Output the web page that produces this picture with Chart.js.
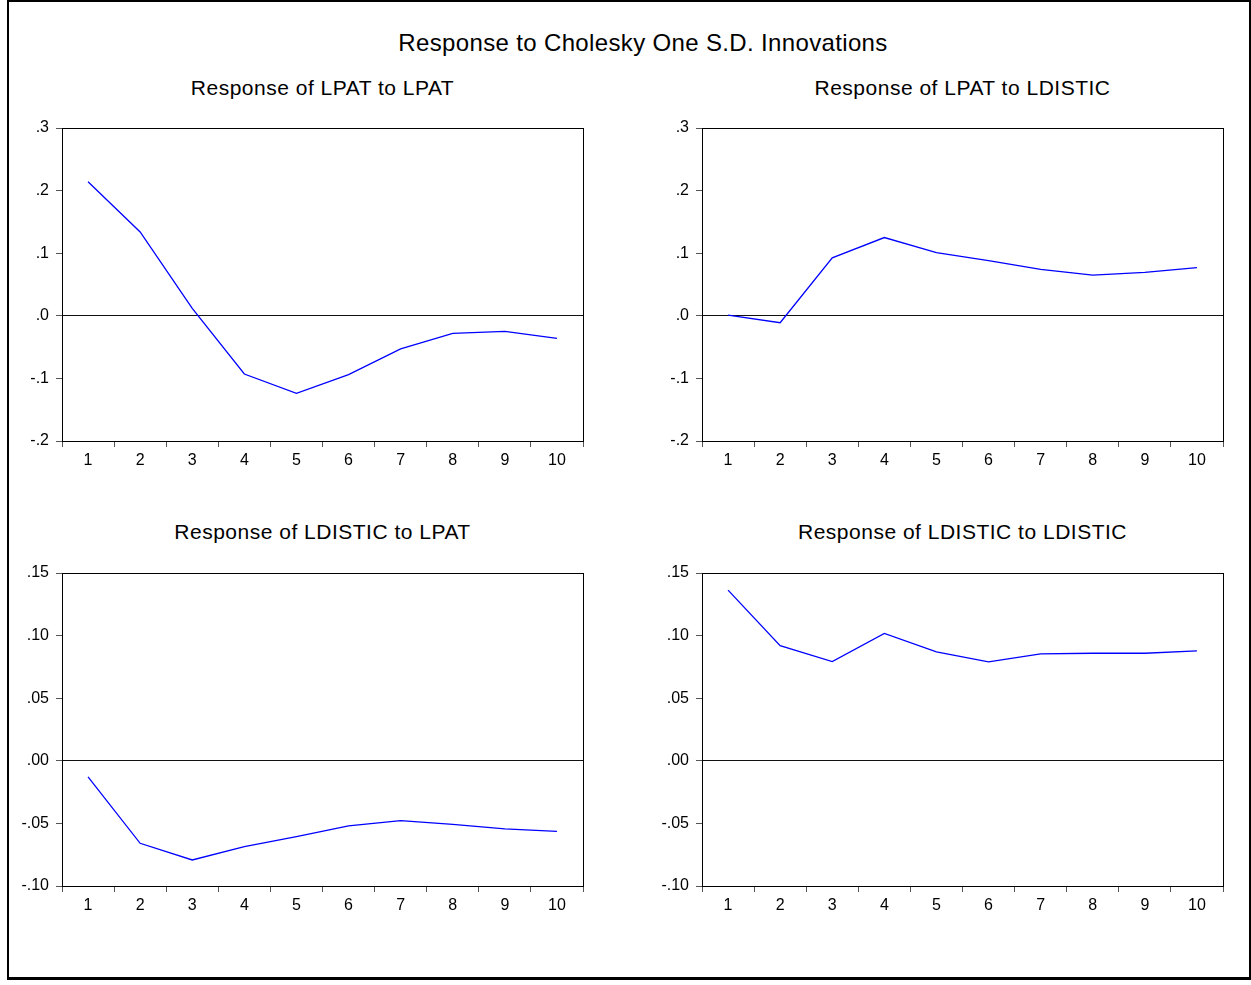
<!DOCTYPE html>
<html>
<head>
<meta charset="utf-8">
<script src="https://cdn.jsdelivr.net/npm/chart.js@4.4.1/dist/chart.umd.min.js"></script>
<style>
  html, body { margin: 0; padding: 0; background: #fff; }
  body { width: 1251px; height: 985px; position: relative; overflow: hidden; font-family: "Liberation Sans", Arial, sans-serif; }
  .frame { position: absolute; left: 7px; top: 0px; width: 1240px; height: 975px; border-left: 2px solid #000; border-top: 2px solid #000; border-right: 2px solid #000; border-bottom: 3px solid #000; }
  .ttl { position: absolute; color: #000; white-space: nowrap; text-align: center; line-height: 1; }
  .sub { font-size: 21px; letter-spacing: 0.5px; }
  .panel { position: absolute; }
</style>
</head>
<body>
<div class="frame"></div>
<div class="ttl" id="mainTitle" style="left:0;width:1286px;top:31px;font-size:24px;letter-spacing:0.35px;">Response to Cholesky One S.D. Innovations</div>
<div class="ttl sub" id="t0" style="left:62px;width:521px;top:77px;"></div>
<div class="ttl sub" id="t1" style="left:702px;width:521px;top:77px;"></div>
<div class="ttl sub" id="t2" style="left:62px;width:521px;top:521px;"></div>
<div class="ttl sub" id="t3" style="left:702px;width:521px;top:521px;"></div>
<div class="panel" id="p0"><canvas id="c0"></canvas></div>
<div class="panel" id="p1"><canvas id="c1"></canvas></div>
<div class="panel" id="p2"><canvas id="c2"></canvas></div>
<div class="panel" id="p3"><canvas id="c3"></canvas></div>
<script>
// ---- data ----
const periods = ['1','2','3','4','5','6','7','8','9','10'];
const panelTitles = ['Response of LPAT to LPAT', 'Response of LPAT to LDISTIC', 'Response of LDISTIC to LPAT', 'Response of LDISTIC to LDISTIC'];
const lpatToLpat       = [0.214, 0.134, 0.012, -0.093, -0.124, -0.094, -0.053, -0.028, -0.025, -0.036];
const lpatToLdistic    = [0.001, -0.011, 0.0925, 0.125, 0.101, 0.088, 0.074, 0.065, 0.0695, 0.077];
const ldisticToLpat    = [-0.0128, -0.0659, -0.0792, -0.0686, -0.0606, -0.052, -0.0478, -0.0507, -0.0544, -0.0563];
const ldisticToLdistic = [0.1363, 0.092, 0.0792, 0.1017, 0.087, 0.079, 0.0854, 0.0859, 0.0859, 0.0878];
const yTicksTop      = [-0.2, -0.1, 0, 0.1, 0.2, 0.3];
const yTickLabelsTop = ['-.2', '-.1', '.0', '.1', '.2', '.3'];
const yTicksBottom      = [-0.10, -0.05, 0, 0.05, 0.10, 0.15];
const yTickLabelsBottom = ['-.10', '-.05', '.00', '.05', '.10', '.15'];

// ---- layout (plot area rectangles) ----
const areas = [
  {left: 62,  top: 127.5, right: 583,  bottom: 440.5},
  {left: 702, top: 127.5, right: 1223, bottom: 440.5},
  {left: 62,  top: 572.5, right: 583,  bottom: 885.5},
  {left: 702, top: 572.5, right: 1223, bottom: 885.5}
];
const series = [lpatToLpat, lpatToLdistic, ldisticToLpat, ldisticToLdistic];
const yTicksSets = [yTicksTop, yTicksTop, yTicksBottom, yTicksBottom];
const yLabelSets = [yTickLabelsTop, yTickLabelsTop, yTickLabelsBottom, yTickLabelsBottom];

const Y_W = 60, X_H = 40, PAD_T = 20, PAD_R = 10;
const FONT = "'Liberation Sans', Arial, sans-serif";

const boxPlugin = {
  id: 'box',
  afterDraw(chart) {
    const a = chart.chartArea, ctx = chart.ctx;
    ctx.save();
    ctx.strokeStyle = '#000';
    ctx.lineWidth = 1;
    ctx.strokeRect(Math.round(a.left) + 0.5, Math.round(a.top) + 0.5, Math.round(a.right - a.left), Math.round(a.bottom - a.top));
    ctx.restore();
  }
};

areas.forEach((ar, i) => {
  document.getElementById('t' + i).textContent = panelTitles[i];
  const p = document.getElementById('p' + i);
  const W = (ar.right - ar.left) + Y_W + PAD_R;
  const H = (ar.bottom - ar.top) + PAD_T + X_H;
  p.style.left = (ar.left - Y_W) + 'px';
  p.style.top = (ar.top - PAD_T) + 'px';
  p.style.width = W + 'px';
  p.style.height = H + 'px';
  const ticksVals = yTicksSets[i];
  const tickLabels = yLabelSets[i];
  new Chart(document.getElementById('c' + i), {
    type: 'line',
    data: {
      labels: periods,
      datasets: [{
        data: series[i],
        borderColor: '#0000ff',
        borderWidth: 1.3,
        pointRadius: 0,
        tension: 0,
        fill: false
      }]
    },
    options: {
      responsive: true,
      maintainAspectRatio: false,
      animation: false,
      events: [],
      layout: { padding: { left: 0, right: PAD_R, top: PAD_T, bottom: 0 } },
      plugins: { legend: { display: false }, tooltip: { enabled: false }, title: { display: false } },
      scales: {
        x: {
          type: 'category',
          offset: true,
          afterFit(s) { s.height = X_H; },
          grid: { offset: true, drawOnChartArea: false, drawTicks: true, tickLength: 6, tickColor: '#555' },
          border: { display: true, color: '#000', width: 1 },
          ticks: { color: '#000', font: { family: FONT, size: 16 }, padding: 4, maxRotation: 0, autoSkip: false }
        },
        y: {
          min: ticksVals[0],
          max: ticksVals[ticksVals.length - 1],
          afterFit(s) { s.width = Y_W; },
          afterBuildTicks(s) { s.ticks = ticksVals.map(v => ({ value: v })); },
          grid: {
            drawOnChartArea: true,
            drawTicks: true,
            tickLength: 6,
            tickColor: '#555',
            color: ctx => (ctx.tick && Math.abs(ctx.tick.value) < 1e-12) ? '#111' : 'rgba(0,0,0,0)',
            lineWidth: 1
          },
          border: { display: true, color: '#000', width: 1 },
          ticks: {
            color: '#000',
            font: { family: FONT, size: 16 },
            padding: 7,
            callback: (v, idx) => tickLabels[idx]
          }
        }
      }
    },
    plugins: [boxPlugin]
  });
});
</script>
</body>
</html>
